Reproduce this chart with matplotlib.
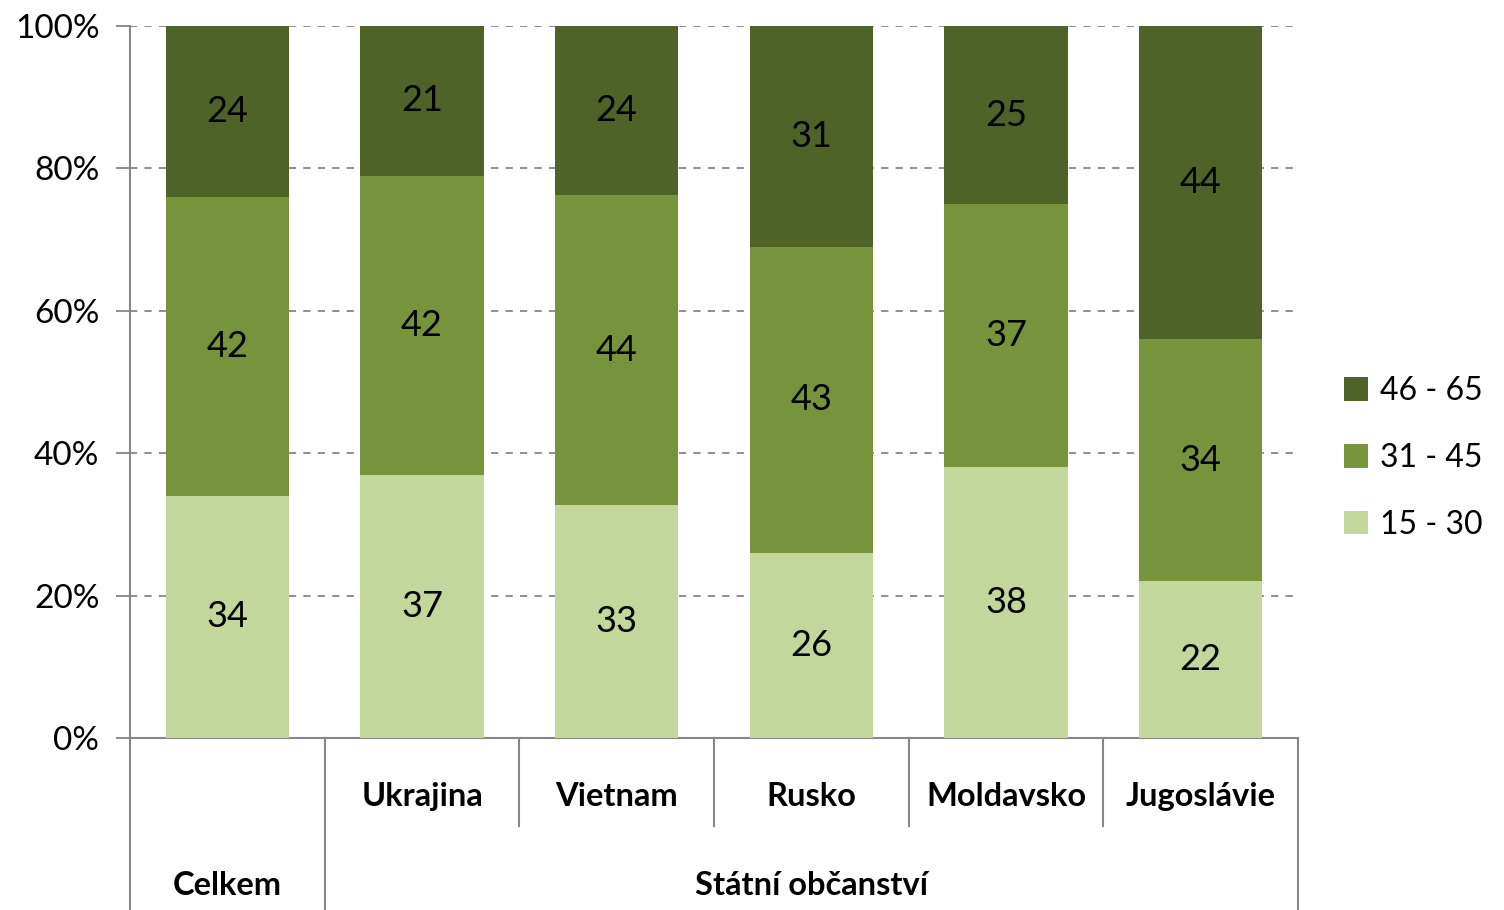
import numpy as np
import matplotlib.pyplot as plt

plt.rcParams['font.family'] = ['Lato', 'DejaVu Sans']

categories = ["Celkem", "Ukrajina", "Vietnam", "Rusko", "Moldavsko", "Jugoslávie"]
group_label = "Státní občanství"
series_names = ["15 - 30", "31 - 45", "46 - 65"]
age_15_30 = [34, 37, 33, 26, 38, 22]
age_31_45 = [42, 42, 44, 43, 37, 34]
age_46_65 = [24, 21, 24, 31, 25, 44]
colors = ["#C3D69B", "#77933C", "#4F6228"]
gray = "#868686"

data = np.array([age_15_30, age_31_45, age_46_65], dtype=float)
shares = data / data.sum(axis=0) * 100

fig = plt.figure(figsize=(15.04, 9.10), dpi=100)
ax = fig.add_axes([130 / 1504, 172 / 910, 1168 / 1504, 712 / 910])

x = np.arange(len(categories))
bottom = np.zeros(len(categories))
handles = []
for i, name in enumerate(series_names):
    h = ax.bar(x, shares[i], bottom=bottom, width=0.635, color=colors[i],
               label=name, zorder=3)
    handles.append(h)
    for j in range(len(categories)):
        ax.text(x[j], bottom[j] + shares[i][j] / 2, f"{int(data[i][j])}",
                ha="center", va="center", fontsize=26, zorder=4)
    bottom += shares[i]

ax.set_xlim(-0.5, len(categories) - 0.5)
ax.set_ylim(0, 100)
ax.set_yticks(np.arange(0, 101, 20))
ax.set_yticklabels([f"{v}%" for v in range(0, 101, 20)], fontsize=24)
ax.yaxis.grid(True, linestyle=(0, (4, 4)), color=gray, linewidth=1.3, zorder=0)
ax.tick_params(axis="y", length=10, color=gray, width=1.3, pad=12)
ax.tick_params(axis="x", length=0, labelbottom=False)
for s in ["top", "right"]:
    ax.spines[s].set_visible(False)
ax.spines["left"].set_color(gray)
ax.spines["bottom"].set_color(gray)
ax.spines["left"].set_linewidth(1.5)
ax.spines["bottom"].set_linewidth(1.5)

# two-level category axis
tr = ax.get_xaxis_transform()
full_bottom = -0.2416
inner_bottom = -0.1236
edges = np.arange(len(categories) + 1) - 0.5
for k, e in enumerate(edges):
    yb = full_bottom if k in (0, 1, len(edges) - 1) else inner_bottom
    ax.plot([e, e], [0, yb], transform=tr, color=gray, lw=1.5, clip_on=False)

for j in range(1, len(categories)):
    ax.text(x[j], -0.0815, categories[j], transform=tr, ha="center", va="center",
            fontsize=23.5, fontweight="bold")
ax.text(x[0], -0.2065, categories[0], transform=tr, ha="center", va="center",
        fontsize=23.5, fontweight="bold")
ax.text((x[1] + x[-1]) / 2, -0.2065, group_label, transform=tr, ha="center",
        va="center", fontsize=23.5, fontweight="bold")

leg = fig.legend(handles[::-1], series_names[::-1], loc="center left",
                 bbox_to_anchor=(1338 / 1504, 1 - 458 / 910), frameon=False,
                 fontsize=23, handlelength=0.75, handleheight=0.75,
                 handletextpad=0.35, labelspacing=1.15, borderpad=0.2,
                 borderaxespad=0)

fig.savefig("out.png", dpi=100)
